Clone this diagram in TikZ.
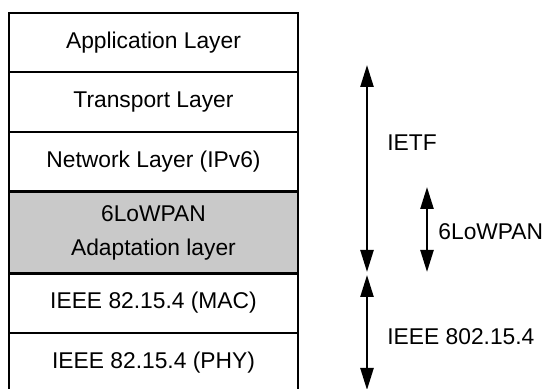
\documentclass[tikz,border=0pt]{standalone}
\usepackage{fontspec}
\setmainfont{Liberation Sans}
\usetikzlibrary{arrows.meta}

\tikzset{
  layer/.style={draw, line width=1.1pt, minimum width=144.5pt, inner sep=0pt,
    align=center, font=\fontsize{11.4}{17}\selectfont},
  span/.style={{Triangle[width=6.5pt,length=11pt]}-{Triangle[width=6.5pt,length=11pt]}, line width=1.2pt},
  spanlabel/.style={anchor=west, inner sep=0pt, font=\fontsize{11.4}{13.5}\selectfont}
}

\begin{document}
\begin{tikzpicture}[x=0.5pt, y=-0.5pt]
		\useasboundingbox (0,0) rectangle (547,389);
		\begin{scope}
		\clip (0,0) rectangle (547,389);

		% protocol stack
		\node[layer, minimum height=29.5pt] (app) at (153.5,42.5) {Application Layer};
		\node[layer, minimum height=30pt] (trans) at (153.5,102) {Transport Layer};
		\node[layer, minimum height=29.5pt] (net) at (153.5,161.5) {Network Layer (IPv6)};
		\node[layer, minimum height=41pt, fill={rgb,255:red,201;green,201;blue,201}] (lowpan) at (153.5,233) {6LoWPAN\\Adaptation layer};
		\node[layer, minimum height=30pt] (mac) at (153.5,303) {IEEE 82.15.4 (MAC)};
		\node[layer, minimum height=30pt] (phy) at (153.5,363) {IEEE 82.15.4 (PHY)};

		% scopes of the standards
		\coordinate (ietfTop) at (367,65);
		\coordinate (ietfBot) at (367,272);
		\coordinate (ieeeTop) at (367,275);
		\coordinate (ieeeBot) at (367,390);
		\coordinate (lowTop) at (427,187);
		\coordinate (lowBot) at (427,272);

		\draw[span] (ietfTop) -- (ietfBot);
		\draw[span] (ieeeTop) -- (ieeeBot);
		\draw[span] (lowTop) -- (lowBot);
		\end{scope}

		\node[spanlabel] (ietf) at (387,143) {IETF};
		\node[spanlabel] (low) at (438,232) {6LoWPAN};
		\node[spanlabel] (ieee) at (387,337) {IEEE 802.15.4};
	\end{tikzpicture}
\end{document}
